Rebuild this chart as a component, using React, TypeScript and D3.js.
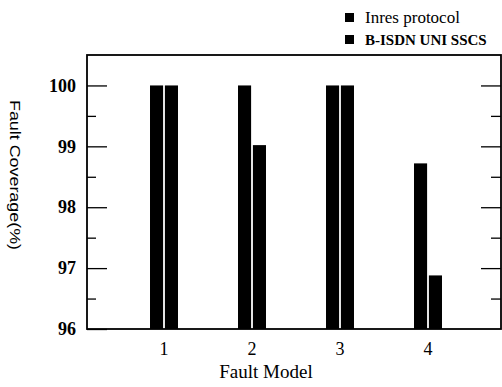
import React, { useEffect, useRef } from "react";
import * as d3 from "d3";

const categories = ["1", "2", "3", "4"];
const seriesNames = ["Inres protocol", "B-ISDN UNI SSCS"];
const inresValues = [100, 100, 100, 98.72];
const bisdnValues = [100, 99.02, 100, 96.88];
const majorTicks = [96, 97, 98, 99, 100];
const minorTicks = [96.5, 97.5, 98.5, 99.5];
const rightTicks = [96.5, 97, 97.5, 98, 98.5, 99, 99.5, 100];

const App = () => {
  const ref = useRef<SVGSVGElement | null>(null);

  useEffect(() => {
    const svg = d3.select(ref.current);
    svg.selectAll("*").remove();

    const left = 87;
    const right = 501;
    const top = 55;
    const bottom = 329;

    const y = d3.scaleLinear().domain([96, 100.5]).range([bottom, top]);

    const x0 = d3
      .scaleBand()
      .domain(categories)
      .range([120, 472])
      .paddingInner(0.682)
      .paddingOuter(0.341);

    const x1 = d3
      .scaleBand()
      .domain(seriesNames)
      .range([0, x0.bandwidth()])
      .paddingInner(0.12);

    const rows = categories.map((c, i) => ({
      cat: c,
      vals: [inresValues[i], bisdnValues[i]]
    }));

    // bars
    const groups = svg
      .append("g")
      .selectAll("g")
      .data(rows)
      .enter()
      .append("g")
      .attr("transform", d => "translate(" + x0(d.cat) + ",0)");

    groups
      .selectAll("rect")
      .data(d => d.vals.map((v, k) => ({ name: seriesNames[k], v })))
      .enter()
      .append("rect")
      .attr("x", d => x1(d.name) as number)
      .attr("width", x1.bandwidth())
      .attr("y", d => y(d.v))
      .attr("height", d => bottom - y(d.v))
      .attr("fill", "#000");

    // left axis: major ticks inward, labels outside
    const yAxisLeft = d3
      .axisLeft(y)
      .tickValues(majorTicks)
      .tickSize(-20)
      .tickPadding(11)
      .tickFormat(d3.format("d"));

    const gl = svg
      .append("g")
      .attr("transform", "translate(" + left + ",0)")
      .call(yAxisLeft);
    gl.select(".domain").remove();
    gl.selectAll("line").attr("stroke", "#000").attr("stroke-width", 1.3);
    gl.selectAll("text")
      .attr("font-family", "Liberation Serif, Times New Roman, serif")
      .attr("font-size", 18)
      .attr("font-weight", "bold")
      .attr("fill", "#000");
    gl.attr("font-family", null).attr("font-size", null);

    const gm = svg
      .append("g")
      .attr("transform", "translate(" + left + ",0)")
      .call(d3.axisLeft(y).tickValues(minorTicks).tickSize(-9).tickFormat(() => ""));
    gm.select(".domain").remove();
    gm.selectAll("line").attr("stroke", "#000").attr("stroke-width", 1.3);

    // right axis ticks pointing inward
    const gr = svg
      .append("g")
      .attr("transform", "translate(" + right + ",0)")
      .call(
        d3
          .axisRight(y)
          .tickValues(rightTicks)
          .tickSize(-20)
          .tickFormat(() => "")
      );
    gr.select(".domain").remove();
    gr.selectAll("line")
      .attr("stroke", "#000")
      .attr("stroke-width", 1.3)
      .attr("x2", (d: any) => (majorTicks.indexOf(d) >= 0 ? -20 : -10));

    // frame
    svg
      .append("rect")
      .attr("x", left)
      .attr("y", top)
      .attr("width", right - left)
      .attr("height", bottom - top)
      .attr("fill", "none")
      .attr("stroke", "#000")
      .attr("stroke-width", 1.8);

    // x labels
    svg
      .append("g")
      .selectAll("text")
      .data(categories)
      .enter()
      .append("text")
      .attr("x", d => (x0(d) as number) + x0.bandwidth() / 2)
      .attr("y", 355)
      .attr("text-anchor", "middle")
      .attr("font-family", "Liberation Serif, Times New Roman, serif")
      .attr("font-size", 18)
      .text(d => d);

    svg
      .append("text")
      .attr("x", 266)
      .attr("y", 378)
      .attr("text-anchor", "middle")
      .attr("font-family", "Liberation Serif, Times New Roman, serif")
      .attr("font-size", 19)
      .text("Fault Model");

    svg
      .append("text")
      .attr("transform", "translate(10,175) rotate(90)")
      .attr("text-anchor", "middle")
      .attr("font-family", "Liberation Sans, Arial, sans-serif")
      .attr("font-size", 15)
      .attr("textLength", 150)
      .attr("lengthAdjust", "spacingAndGlyphs")
      .text("Fault Coverage(%)");

    // legend
    const legend = svg
      .append("g")
      .selectAll("g")
      .data(seriesNames)
      .enter()
      .append("g")
      .attr("transform", (d, i) => "translate(345," + (13 + i * 22) + ")");

    legend
      .append("rect")
      .attr("width", 9)
      .attr("height", 9)
      .attr("fill", "#000");

    legend
      .append("text")
      .attr("x", 20)
      .attr("y", 10)
      .attr("font-family", "Liberation Serif, Times New Roman, serif")
      .attr("font-size", (d, i) => (i === 0 ? 17 : 15))
      .attr("font-weight", (d, i) => (i === 0 ? "normal" : "bold"))
      .text(d => d);
  }, []);

  return (
    <svg
      ref={ref}
      width={502}
      height={387}
      style={{ position: "absolute", left: 0, top: 0, background: "#fff" }}
    />
  );
};

export default App;
